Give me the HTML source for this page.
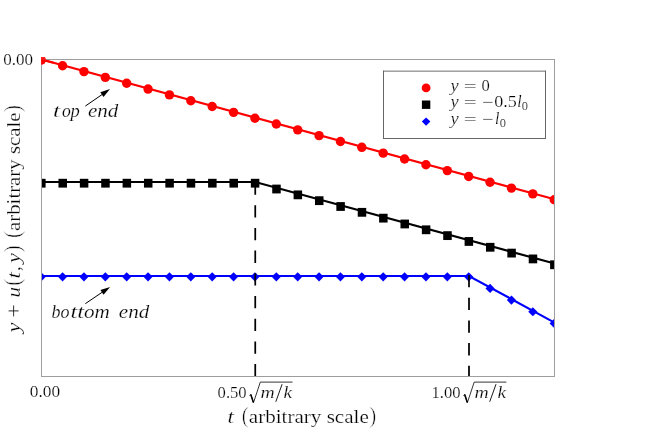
<!DOCTYPE html>
<html><head><meta charset="utf-8"><title>chart</title>
<style>html,body{margin:0;padding:0;background:#fff}body{width:664px;height:431px;overflow:hidden;font-family:"Liberation Serif",serif}</style></head>
<body>
<svg width="664" height="431" viewBox="0 0 664 431" style="display:block;opacity:1">
<rect x="0" y="0" width="664" height="431" fill="#fff"/>
<defs><clipPath id="c2"><rect x="41" y="57" width="30" height="30"/></clipPath><clipPath id="c"><rect x="41.50" y="59.50" width="513.00" height="317.00"/></clipPath><filter id="gs" x="0" y="0" width="664" height="431" filterUnits="userSpaceOnUse" color-interpolation-filters="sRGB"><feColorMatrix type="saturate" values="0"/></filter></defs>
<g clip-path="url(#c)">
<polyline fill="none" stroke="#f00" stroke-width="2.15" points="41.50,59.50 554.50,199.29"/>
<polyline fill="none" stroke="#000" stroke-width="2.15" points="41.50,182.00 255.25,182.00 554.50,263.55"/>
<polyline fill="none" stroke="#00f" stroke-width="2.15" points="41.50,276.00 469.00,276.00 554.50,322.60"/>
<circle cx="41.20" cy="59.95" r="4.7" fill="#f00"/>
<circle cx="62.58" cy="65.77" r="4.7" fill="#f00"/>
<circle cx="83.95" cy="71.60" r="4.7" fill="#f00"/>
<circle cx="105.33" cy="77.42" r="4.7" fill="#f00"/>
<circle cx="126.70" cy="83.25" r="4.7" fill="#f00"/>
<circle cx="148.07" cy="89.07" r="4.7" fill="#f00"/>
<circle cx="169.45" cy="94.90" r="4.7" fill="#f00"/>
<circle cx="190.82" cy="100.72" r="4.7" fill="#f00"/>
<circle cx="212.20" cy="106.55" r="4.7" fill="#f00"/>
<circle cx="233.57" cy="112.37" r="4.7" fill="#f00"/>
<circle cx="254.95" cy="118.20" r="4.7" fill="#f00"/>
<circle cx="276.32" cy="124.02" r="4.7" fill="#f00"/>
<circle cx="297.70" cy="129.85" r="4.7" fill="#f00"/>
<circle cx="319.07" cy="135.67" r="4.7" fill="#f00"/>
<circle cx="340.45" cy="141.50" r="4.7" fill="#f00"/>
<circle cx="361.82" cy="147.32" r="4.7" fill="#f00"/>
<circle cx="383.20" cy="153.14" r="4.7" fill="#f00"/>
<circle cx="404.57" cy="158.97" r="4.7" fill="#f00"/>
<circle cx="425.95" cy="164.79" r="4.7" fill="#f00"/>
<circle cx="447.32" cy="170.62" r="4.7" fill="#f00"/>
<circle cx="468.70" cy="176.44" r="4.7" fill="#f00"/>
<circle cx="490.07" cy="182.27" r="4.7" fill="#f00"/>
<circle cx="511.45" cy="188.09" r="4.7" fill="#f00"/>
<circle cx="532.83" cy="193.92" r="4.7" fill="#f00"/>
<circle cx="554.20" cy="199.74" r="4.7" fill="#f00"/>
<rect x="37.10" y="178.80" width="8.5" height="8.8" fill="#000"/>
<rect x="58.48" y="178.80" width="8.5" height="8.8" fill="#000"/>
<rect x="79.85" y="178.80" width="8.5" height="8.8" fill="#000"/>
<rect x="101.22" y="178.80" width="8.5" height="8.8" fill="#000"/>
<rect x="122.60" y="178.80" width="8.5" height="8.8" fill="#000"/>
<rect x="143.97" y="178.80" width="8.5" height="8.8" fill="#000"/>
<rect x="165.35" y="178.80" width="8.5" height="8.8" fill="#000"/>
<rect x="186.72" y="178.80" width="8.5" height="8.8" fill="#000"/>
<rect x="208.10" y="178.80" width="8.5" height="8.8" fill="#000"/>
<rect x="229.47" y="178.80" width="8.5" height="8.8" fill="#000"/>
<rect x="250.85" y="178.80" width="8.5" height="8.8" fill="#000"/>
<rect x="272.23" y="184.62" width="8.5" height="8.8" fill="#000"/>
<rect x="293.60" y="190.45" width="8.5" height="8.8" fill="#000"/>
<rect x="314.98" y="196.27" width="8.5" height="8.8" fill="#000"/>
<rect x="336.35" y="202.10" width="8.5" height="8.8" fill="#000"/>
<rect x="357.73" y="207.92" width="8.5" height="8.8" fill="#000"/>
<rect x="379.10" y="213.75" width="8.5" height="8.8" fill="#000"/>
<rect x="400.48" y="219.57" width="8.5" height="8.8" fill="#000"/>
<rect x="421.85" y="225.40" width="8.5" height="8.8" fill="#000"/>
<rect x="443.23" y="231.22" width="8.5" height="8.8" fill="#000"/>
<rect x="464.60" y="237.05" width="8.5" height="8.8" fill="#000"/>
<rect x="485.98" y="242.87" width="8.5" height="8.8" fill="#000"/>
<rect x="507.35" y="248.70" width="8.5" height="8.8" fill="#000"/>
<rect x="528.73" y="254.52" width="8.5" height="8.8" fill="#000"/>
<rect x="550.10" y="260.35" width="8.5" height="8.8" fill="#000"/>
<polygon fill="#00f" points="41.20,272.20 45.80,276.80 41.20,281.40 36.60,276.80"/>
<polygon fill="#00f" points="62.58,272.20 67.17,276.80 62.58,281.40 57.98,276.80"/>
<polygon fill="#00f" points="83.95,272.20 88.55,276.80 83.95,281.40 79.35,276.80"/>
<polygon fill="#00f" points="105.33,272.20 109.92,276.80 105.33,281.40 100.73,276.80"/>
<polygon fill="#00f" points="126.70,272.20 131.30,276.80 126.70,281.40 122.10,276.80"/>
<polygon fill="#00f" points="148.07,272.20 152.67,276.80 148.07,281.40 143.47,276.80"/>
<polygon fill="#00f" points="169.45,272.20 174.05,276.80 169.45,281.40 164.85,276.80"/>
<polygon fill="#00f" points="190.82,272.20 195.42,276.80 190.82,281.40 186.22,276.80"/>
<polygon fill="#00f" points="212.20,272.20 216.80,276.80 212.20,281.40 207.60,276.80"/>
<polygon fill="#00f" points="233.57,272.20 238.17,276.80 233.57,281.40 228.97,276.80"/>
<polygon fill="#00f" points="254.95,272.20 259.55,276.80 254.95,281.40 250.35,276.80"/>
<polygon fill="#00f" points="276.32,272.20 280.93,276.80 276.32,281.40 271.72,276.80"/>
<polygon fill="#00f" points="297.70,272.20 302.30,276.80 297.70,281.40 293.10,276.80"/>
<polygon fill="#00f" points="319.07,272.20 323.68,276.80 319.07,281.40 314.47,276.80"/>
<polygon fill="#00f" points="340.45,272.20 345.05,276.80 340.45,281.40 335.85,276.80"/>
<polygon fill="#00f" points="361.82,272.20 366.43,276.80 361.82,281.40 357.22,276.80"/>
<polygon fill="#00f" points="383.20,272.20 387.80,276.80 383.20,281.40 378.60,276.80"/>
<polygon fill="#00f" points="404.57,272.20 409.18,276.80 404.57,281.40 399.97,276.80"/>
<polygon fill="#00f" points="425.95,272.20 430.55,276.80 425.95,281.40 421.35,276.80"/>
<polygon fill="#00f" points="447.32,272.20 451.93,276.80 447.32,281.40 442.72,276.80"/>
<polygon fill="#00f" points="468.70,272.20 473.30,276.80 468.70,281.40 464.10,276.80"/>
<polygon fill="#00f" points="490.07,283.85 494.68,288.45 490.07,293.05 485.47,288.45"/>
<polygon fill="#00f" points="511.45,295.50 516.05,300.10 511.45,304.70 506.85,300.10"/>
<polygon fill="#00f" points="532.83,307.15 537.43,311.75 532.83,316.35 528.23,311.75"/>
<polygon fill="#00f" points="554.20,318.80 558.80,323.40 554.20,328.00 549.60,323.40"/>
<line x1="255.25" y1="182.50" x2="255.25" y2="381.50" stroke="#000" stroke-width="1.75" stroke-dasharray="12.3 10.4"/>
<line x1="469.00" y1="275.00" x2="469.00" y2="381.50" stroke="#000" stroke-width="1.75" stroke-dasharray="12.3 10.4"/>
</g>
<rect x="41.5" y="59.5" width="513.0" height="317.0" fill="none" stroke="#9e9e9e" stroke-width="1"/>
<g clip-path="url(#c2)" opacity="0.88"><circle cx="41.20" cy="59.95" r="4.7" fill="#f00"/><line x1="40.50" y1="59.23" x2="53.50" y2="62.77" stroke="#f00" stroke-width="2.15"/></g>
<rect x="383.5" y="71.5" width="162" height="66.5" fill="#fff" stroke="none"/>
<line x1="383.5" y1="70.6" x2="383.5" y2="139" stroke="#666" stroke-width="1"/>
<line x1="545.5" y1="70.6" x2="545.5" y2="139" stroke="#666" stroke-width="1"/>
<line x1="383" y1="138.5" x2="546" y2="138.5" stroke="#666" stroke-width="1"/>
<line x1="383" y1="71.15" x2="546" y2="71.15" stroke="#666" stroke-width="0.95"/>
<circle cx="426.1" cy="87.95" r="4.4" fill="#f00"/>
<rect x="421.9" y="100.5" width="8.4" height="8.4" fill="#000"/>
<polygon fill="#00f" points="426.1,117.4 430.4,121.6 426.1,125.8 421.8,121.6"/>
<g filter="url(#gs)" stroke="#fff" stroke-width="0.22">
<text x="450.60" y="90.80" font-family="Liberation Serif, serif" font-size="17.70" font-style="italic" textLength="8.20" lengthAdjust="spacingAndGlyphs" >y</text>
<text x="463.70" y="91.50" font-family="Liberation Serif, serif" font-size="17.70" textLength="13.00" lengthAdjust="spacingAndGlyphs" >=</text>
<text x="450.60" y="107.00" font-family="Liberation Serif, serif" font-size="17.70" font-style="italic" textLength="8.20" lengthAdjust="spacingAndGlyphs" >y</text>
<text x="463.70" y="107.70" font-family="Liberation Serif, serif" font-size="17.70" textLength="13.00" lengthAdjust="spacingAndGlyphs" >=</text>
<text x="450.60" y="123.80" font-family="Liberation Serif, serif" font-size="17.70" font-style="italic" textLength="8.20" lengthAdjust="spacingAndGlyphs" >y</text>
<text x="463.70" y="124.50" font-family="Liberation Serif, serif" font-size="17.70" textLength="13.00" lengthAdjust="spacingAndGlyphs" >=</text>
<text x="481.50" y="90.80" font-family="Liberation Serif, serif" font-size="17.70" textLength="8.30" lengthAdjust="spacingAndGlyphs" >0</text>
<text x="482.00" y="107.70" font-family="Liberation Serif, serif" font-size="17.70" textLength="11.60" lengthAdjust="spacingAndGlyphs" >−</text>
<text x="494.20" y="107.00" font-family="Liberation Serif, serif" font-size="17.70" textLength="22.60" lengthAdjust="spacingAndGlyphs" >0.5</text>
<text x="517.20" y="107.00" font-family="Liberation Serif, serif" font-size="17.70" font-style="italic" textLength="4.40" lengthAdjust="spacingAndGlyphs" >l</text>
<text x="521.80" y="110.30" font-family="Liberation Serif, serif" font-size="12.00" textLength="6.20" lengthAdjust="spacingAndGlyphs" >0</text>
<text x="482.00" y="124.50" font-family="Liberation Serif, serif" font-size="17.70" textLength="11.60" lengthAdjust="spacingAndGlyphs" >−</text>
<text x="495.00" y="123.80" font-family="Liberation Serif, serif" font-size="17.70" font-style="italic" textLength="4.40" lengthAdjust="spacingAndGlyphs" >l</text>
<text x="499.70" y="127.10" font-family="Liberation Serif, serif" font-size="12.00" textLength="6.20" lengthAdjust="spacingAndGlyphs" >0</text>
<text x="3.20" y="65.00" font-family="Liberation Serif, serif" font-size="17.70" textLength="29.80" lengthAdjust="spacingAndGlyphs" >0.00</text>
<text x="29.80" y="396.50" font-family="Liberation Serif, serif" font-size="17.70" textLength="30.30" lengthAdjust="spacingAndGlyphs" >0.00</text>
<text x="217.60" y="397.70" font-family="Liberation Serif, serif" font-size="17.70" textLength="29.00" lengthAdjust="spacingAndGlyphs" >0.50</text>
<path d="M249.50,395.6 L250.70,394.4 L253.50,402.6 L260.30,382.1 L292.50,382.1" fill="none" stroke="#000" stroke-width="0.8" stroke-linejoin="miter"/>
<path d="M250.80,394.6 L253.40,402.4" fill="none" stroke="#000" stroke-width="1.5"/>
<text x="260.50" y="397.70" font-family="Liberation Serif, serif" font-size="17.70" font-style="italic" textLength="14.20" lengthAdjust="spacingAndGlyphs" >m</text>
<line x1="275.80" y1="401.8" x2="282.10" y2="384.2" stroke="#000" stroke-width="0.9"/>
<text x="283.50" y="397.70" font-family="Liberation Serif, serif" font-size="17.70" font-style="italic" textLength="8.60" lengthAdjust="spacingAndGlyphs" >k</text>
<text x="431.50" y="397.70" font-family="Liberation Serif, serif" font-size="17.70" textLength="29.00" lengthAdjust="spacingAndGlyphs" >1.00</text>
<path d="M463.40,395.6 L464.60,394.4 L467.40,402.6 L474.20,382.1 L506.40,382.1" fill="none" stroke="#000" stroke-width="0.8" stroke-linejoin="miter"/>
<path d="M464.70,394.6 L467.30,402.4" fill="none" stroke="#000" stroke-width="1.5"/>
<text x="474.40" y="397.70" font-family="Liberation Serif, serif" font-size="17.70" font-style="italic" textLength="14.20" lengthAdjust="spacingAndGlyphs" >m</text>
<line x1="489.70" y1="401.8" x2="496.00" y2="384.2" stroke="#000" stroke-width="0.9"/>
<text x="497.40" y="397.70" font-family="Liberation Serif, serif" font-size="17.70" font-style="italic" textLength="8.60" lengthAdjust="spacingAndGlyphs" >k</text>
<text x="227.60" y="422.90" font-family="Liberation Serif, serif" font-size="18.00" font-style="italic" textLength="6.40" lengthAdjust="spacingAndGlyphs" >t</text>
<text x="241.80" y="423.00" font-family="Liberation Serif, serif" font-size="23.00" textLength="7.00" lengthAdjust="spacingAndGlyphs" stroke-width="0.6">(</text>
<text x="248.80" y="422.90" font-family="Liberation Serif, serif" font-size="18.00" textLength="120.00" lengthAdjust="spacingAndGlyphs" >arbitrary scale</text>
<text x="369.20" y="423.00" font-family="Liberation Serif, serif" font-size="23.00" textLength="7.00" lengthAdjust="spacingAndGlyphs" stroke-width="0.6">)</text>
<g transform="translate(19.7,333.4) rotate(-90)">
<text x="1.00" y="0.00" font-family="Liberation Serif, serif" font-size="18.00" font-style="italic" textLength="10.00" lengthAdjust="spacingAndGlyphs" >y</text>
<text x="15.60" y="1.20" font-family="Liberation Serif, serif" font-size="21.50" textLength="13.60" lengthAdjust="spacingAndGlyphs" >+</text>
<text x="36.00" y="0.00" font-family="Liberation Serif, serif" font-size="18.00" font-style="italic" textLength="10.60" lengthAdjust="spacingAndGlyphs" >u</text>
<text x="47.60" y="0.10" font-family="Liberation Serif, serif" font-size="23.00" textLength="7.00" lengthAdjust="spacingAndGlyphs" stroke-width="0.6">(</text>
<text x="54.80" y="0.00" font-family="Liberation Serif, serif" font-size="18.00" font-style="italic" textLength="6.40" lengthAdjust="spacingAndGlyphs" >t</text>
<text x="62.40" y="0.00" font-family="Liberation Serif, serif" font-size="18.00" textLength="4.60" lengthAdjust="spacingAndGlyphs" >,</text>
<text x="70.40" y="0.00" font-family="Liberation Serif, serif" font-size="18.00" font-style="italic" textLength="10.00" lengthAdjust="spacingAndGlyphs" >y</text>
<text x="81.20" y="0.10" font-family="Liberation Serif, serif" font-size="23.00" textLength="7.00" lengthAdjust="spacingAndGlyphs" stroke-width="0.6">)</text>
<text x="95.40" y="0.10" font-family="Liberation Serif, serif" font-size="23.00" textLength="7.00" lengthAdjust="spacingAndGlyphs" stroke-width="0.6">(</text>
<text x="102.40" y="0.00" font-family="Liberation Serif, serif" font-size="18.00" textLength="118.60" lengthAdjust="spacingAndGlyphs" >arbitrary scale</text>
<text x="221.40" y="0.10" font-family="Liberation Serif, serif" font-size="23.00" textLength="7.00" lengthAdjust="spacingAndGlyphs" stroke-width="0.6">)</text>
</g>
<text x="52.80" y="117.40" font-family="Liberation Serif, serif" font-size="19.40" font-style="italic" textLength="7.70" lengthAdjust="spacingAndGlyphs" stroke-width="0.3">t</text>
<text x="62.00" y="117.40" font-family="Liberation Serif, serif" font-size="19.40" font-style="italic" textLength="8.80" lengthAdjust="spacingAndGlyphs" >o</text>
<text x="70.40" y="117.40" font-family="Liberation Serif, serif" font-size="19.40" font-style="italic" textLength="9.30" lengthAdjust="spacingAndGlyphs" >p</text>
<text x="88.00" y="117.40" font-family="Liberation Serif, serif" font-size="19.40" font-style="italic" textLength="30.40" lengthAdjust="spacingAndGlyphs" >end</text>
<text x="51.50" y="317.60" font-family="Liberation Serif, serif" font-size="19.40" font-style="italic" textLength="18.00" lengthAdjust="spacingAndGlyphs" >bo</text>
<text x="70.40" y="317.60" font-family="Liberation Serif, serif" font-size="19.40" font-style="italic" textLength="13.60" lengthAdjust="spacingAndGlyphs" >tt</text>
<text x="84.00" y="317.60" font-family="Liberation Serif, serif" font-size="19.40" font-style="italic" textLength="25.80" lengthAdjust="spacingAndGlyphs" >om</text>
<text x="118.80" y="317.60" font-family="Liberation Serif, serif" font-size="19.40" font-style="italic" textLength="30.40" lengthAdjust="spacingAndGlyphs" >end</text>
</g>
<line x1="85.30" y1="106.10" x2="102.75" y2="94.09" stroke="#000" stroke-width="1"/>
<polygon fill="#000" points="110.00,89.10 103.51,96.96 100.34,92.35"/>
<line x1="85.30" y1="303.70" x2="102.81" y2="291.84" stroke="#000" stroke-width="1"/>
<polygon fill="#000" points="110.10,286.90 103.56,294.71 100.42,290.08"/>
</svg>
</body></html>
